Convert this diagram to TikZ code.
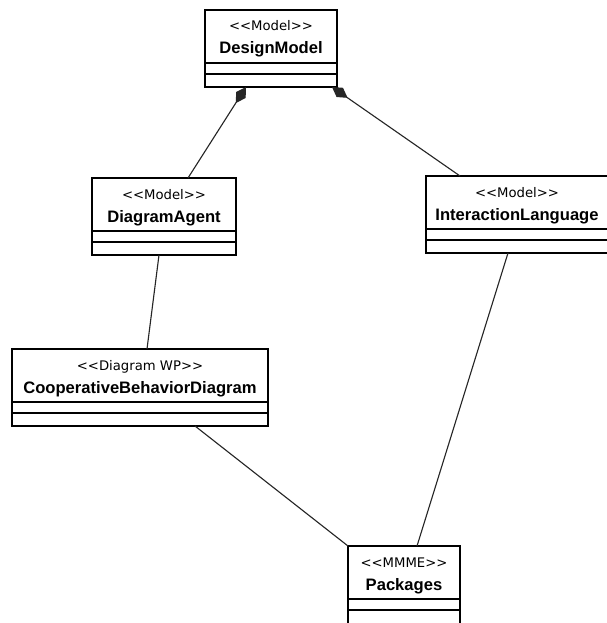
\documentclass[tikz,border=0pt]{standalone}
\usepackage{fontspec}
\setmainfont{Liberation Sans}
\newfontfamily\stereofont{DejaVu Sans}
\usetikzlibrary{arrows.meta,calc}
\newcommand\pxl{0.025cm}
\tikzset{
  classbox/.style={draw=black,line width=2pt,inner sep=0pt,outer sep=0pt,fill=white},
  divider/.style={line width=1.1pt},
  stereo/.style={font=\stereofont\fontsize{9.4pt}{10pt}\selectfont,anchor=base,inner sep=0pt},
  cname/.style={font=\bfseries\fontsize{11.8pt}{13pt}\selectfont,anchor=base,inner sep=0pt},
  assoc/.style={line width=0.8pt,black!85},
  compo/.style={assoc,{Diamond[length=13.5pt,width=8pt]}-},
}

\begin{document}
\begin{tikzpicture}[x=\pxl,y=-\pxl]
  \useasboundingbox (0,0) rectangle (606,623);
  % classes: name/centre x/top/width/height/stereotype/title
  \foreach \n/\x/\y/\w/\h/\s/\t in {design/271/10/132/77/Model/DesignModel,
      agent/164/178/144/77/Model/DiagramAgent,
      inter/517/176/182/77/Model/InteractionLanguage,
      coop/140/349/256/77/Diagram WP/CooperativeBehaviorDiagram,
      pack/404/546/112/80/MMME/Packages}{
    \node[classbox,minimum width=\w*\pxl,minimum height=\h*\pxl] (\n) at (\x,\y+\h/2) {};
    \node[stereo] (\n-st) at (\x,\y+21) {<<\s>>};
    \node[cname] (\n-nm) at (\x,\y+44) {\t};
    \draw[divider] ($(\n.north west)+(0,53)$) -- ($(\n.north east)+(0,53)$);
    \draw[divider] ($(\n.north west)+(0,64)$) -- ($(\n.north east)+(0,64)$);
  }

  \draw[compo] ($(design.south)+(-25,0)$) -- ($(agent.north)+(24,0)$);
  \draw[compo] ($(design.south)+(61,0)$) -- ($(inter.north)+(-57,0)$);
  \draw[assoc] ($(agent.south)+(-5,0)$) -- ($(coop.north)+(7,0)$);
  \draw[assoc] ($(coop.south)+(55,0)$) -- (pack.north west);
  \draw[assoc] ($(inter.south)+(-9,0)$) -- ($(pack.north)+(13,0)$);
\end{tikzpicture}
\end{document}
